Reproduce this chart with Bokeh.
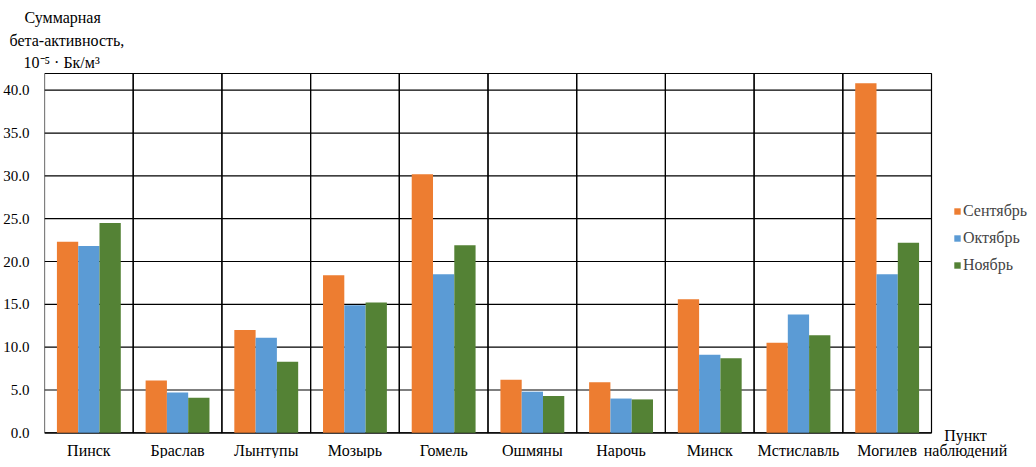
from bokeh.plotting import figure
from bokeh.layouts import column
from bokeh.models import (ColumnDataSource, Label, Legend, LegendItem, FixedTicker,
                          NumeralTickFormatter, Title, Range1d, Spacer)
from bokeh.core.properties import value
from bokeh.transform import dodge
from bokeh.embed import file_html
from bokeh.resources import INLINE

# ---------------- data ----------------
cities = ["Пинск", "Браслав", "Лынтупы", "Мозырь", "Гомель", "Ошмяны", "Нарочь", "Минск", "Мстиславль", "Могилев"]
sep = [22.3, 6.1, 12.0, 18.4, 30.2, 6.2, 5.9, 15.6, 10.5, 40.8]
octo = [21.8, 4.7, 11.1, 14.9, 18.5, 4.8, 4.0, 9.1, 13.8, 18.5]
nov = [24.5, 4.1, 8.3, 15.2, 21.9, 4.3, 3.9, 8.7, 11.4, 22.2]
series_names = ["Сентябрь", "Октябрь", "Ноябрь"]
y_ticks = [0, 5, 10, 15, 20, 25, 30, 35, 40]
y_axis_max = 41.95
y_title = ["Суммарная", "бета-активность,", "10⁻⁵ · Бк/м³"]
x_title = ["Пункт", "наблюдений"]

# ---------------- styles / layout ----------------
colors = ["#ED7D31", "#5B9BD5", "#548235"]
FONT = "Liberation Serif"
W, H = 1020, 446
TOP_PAD = 5
LEFT, TOP = 36, 60            # frame offsets inside the figure canvas
PX_X, PX_Y = 88.7, 8.565      # pixels per category / per unit
ZERO_FROM_BOTTOM = 25.7       # px between canvas bottom and y = 0

fw, fh = W - LEFT, H - TOP
n = len(cities)
idx = list(range(n))
y0 = -ZERO_FROM_BOTTOM / PX_Y
y1 = y0 + fh / PX_Y
x0 = -0.5
x1 = x0 + fw / PX_X

src = ColumnDataSource(dict(idx=idx, city=cities, sep=sep, octo=octo, nov=nov,
                            top=[y_axis_max] * n))

p = figure(x_range=Range1d(x0, x1), y_range=Range1d(y0, y1), frame_width=fw, frame_height=fh,
           output_backend="svg", toolbar_location=None,
           min_border_left=LEFT, min_border_right=0, min_border_top=TOP, min_border_bottom=0)
p.outline_line_color = None
p.xgrid.grid_line_color = None
p.ygrid.grid_line_color = None
p.xaxis.visible = False

# horizontal grid lines limited to the plot box
grid_src = ColumnDataSource(dict(y=y_ticks, xa=[x0] * len(y_ticks), xb=[n - 0.5] * len(y_ticks)))
p.segment(x0="xa", x1="xb", y0="y", y1="y", source=grid_src, line_color="black", line_width=1.2)

# category boxes (vertical separators + outer frame)
p.vbar(x="idx", top="top", bottom=0, width=1.0, source=src, fill_color=None,
       line_color="black", line_width=1.2)

w = 0.24
r1 = p.vbar(x=dodge("idx", -w), top="sep", width=w, source=src, color=colors[0], line_color=None)
r2 = p.vbar(x=dodge("idx", 0), top="octo", width=w, source=src, color=colors[1], line_color=None)
r3 = p.vbar(x=dodge("idx", w), top="nov", width=w, source=src, color=colors[2], line_color=None)

# category labels
p.text(x="idx", y=0, text="city", source=src, y_offset=18, text_align="center",
       text_baseline="middle", text_font=value(FONT), text_font_size="16px", text_color="black")

# y axis
ya = p.yaxis[0]
ya.ticker = FixedTicker(ticks=y_ticks)
ya.formatter = NumeralTickFormatter(format="0.0")
ya.axis_line_color = None
ya.major_tick_line_color = None
ya.minor_tick_line_color = None
ya.major_label_text_font = FONT
ya.major_label_text_font_size = "15px"
ya.major_label_text_color = "black"
ya.major_label_standoff = 9

legend = Legend(items=[LegendItem(label=nm, renderers=[r]) for nm, r in zip(series_names, [r1, r2, r3])],
                location=(909, 184), label_text_font=FONT, label_text_font_size="16px",
                glyph_width=8, glyph_height=8, label_standoff=2, spacing=8, label_height=19,
                padding=0, margin=0, border_line_color=None, background_fill_alpha=0)
p.add_layout(legend, "center")

# y-axis title (stacked above the frame, nearest first)
title_offsets = {"10⁻⁵ · Бк/м³": -21, "бета-активность,": -35, "Суммарная": -20}
title_standoffs = [3, 4, 3]
for t, so in zip(reversed(y_title), title_standoffs):
    p.add_layout(Title(text=t, align="left", offset=title_offsets[t], text_font=FONT,
                       text_font_size="16px", text_font_style="normal", text_color="black",
                       standoff=so), "above")

# x-axis title at bottom right
for t, ypix in zip(x_title, [23, 8]):
    p.add_layout(Label(x=921, y=ypix, x_units="screen", y_units="screen", text=t,
                       text_font=FONT, text_font_size="16px", text_align="center",
                       text_baseline="middle", text_color="black"))

page = column(Spacer(width=W, height=TOP_PAD), p, spacing=0)
open("out.html", "w").write(file_html(page, INLINE))
